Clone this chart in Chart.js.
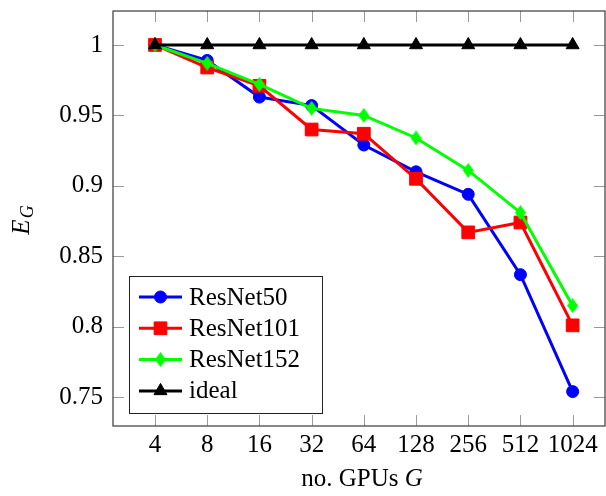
<!DOCTYPE html>
<html>
<head>
<meta charset="utf-8">
<script src="https://cdn.jsdelivr.net/npm/chart.js@4/dist/chart.umd.min.js"></script>
<style>
  html, body { margin: 0; padding: 0; background: #fff; overflow: hidden; }
  canvas { display: block; }
</style>
</head>
<body>
<canvas id="efficiency" width="606" height="496"></canvas>
<script>
// GPU counts on the x axis (plotted at log2 positions) and efficiency per model
const gpuCounts = [4, 8, 16, 32, 64, 128, 256, 512, 1024];
const resnet50 = [1.0, 0.989, 0.963, 0.957, 0.929, 0.910, 0.894, 0.837, 0.754];
const resnet101 = [1.0, 0.984, 0.971, 0.940, 0.937, 0.905, 0.867, 0.874, 0.801];
const resnet152 = [1.0, 0.987, 0.972, 0.955, 0.950, 0.934, 0.911, 0.881, 0.815];
const ideal = [1, 1, 1, 1, 1, 1, 1, 1, 1];
const yTicks = [0.75, 0.8, 0.85, 0.9, 0.95, 1];

const FONT = "'Liberation Serif', 'Times New Roman', serif";
const FONT_SIZE = 25;

const toPoints = (values) => values.map((v, i) => ({ x: Math.log2(gpuCounts[i]), y: v }));

// narrow diamond marker like pgfplots' diamond*
const makeDiamond = (color, w, h) => {
  const c = document.createElement("canvas");
  c.width = w;
  c.height = h;
  const ctx = c.getContext("2d");
  ctx.fillStyle = color;
  ctx.beginPath();
  ctx.moveTo(w / 2, 0);
  ctx.lineTo(w, h / 2);
  ctx.lineTo(w / 2, h);
  ctx.lineTo(0, h / 2);
  ctx.closePath();
  ctx.fill();
  return c;
};
const greenDiamond = makeDiamond("#00ff00", 11, 15);

const series = [
  { label: "ResNet50", data: resnet50, color: "#0000ff", pointStyle: "circle", radius: 6, order: 3 },
  { label: "ResNet101", data: resnet101, color: "#ff0000", pointStyle: "rect", radius: 9, order: 2 },
  { label: "ResNet152", data: resnet152, color: "#00ff00", pointStyle: greenDiamond, radius: 7, order: 1 },
  { label: "ideal", data: ideal, color: "#000000", pointStyle: "triangle", radius: 7.5, order: 0 },
];

// box around the plot with inward tick marks on all four sides, plus x tick labels
const frame = {
  id: "frame",
  beforeDatasetsDraw(chart) {
    const { ctx, chartArea: a, scales } = chart;
    const len = 11;
    ctx.save();
    ctx.strokeStyle = "#9a9a9a";
    ctx.lineWidth = 1;
    ctx.beginPath();
    scales.x.ticks.forEach((t) => {
      const px = Math.round(scales.x.getPixelForValue(t.value)) + 0.5;
      ctx.moveTo(px, a.bottom);
      ctx.lineTo(px, a.bottom - len);
      ctx.moveTo(px, a.top);
      ctx.lineTo(px, a.top + len);
    });
    scales.y.ticks.forEach((t) => {
      const py = Math.round(scales.y.getPixelForValue(t.value)) + 0.5;
      ctx.moveTo(a.left, py);
      ctx.lineTo(a.left + len, py);
      ctx.moveTo(a.right, py);
      ctx.lineTo(a.right - len, py);
    });
    ctx.stroke();
    ctx.strokeStyle = "#3a3a3a";
    ctx.lineWidth = 1.2;
    ctx.strokeRect(a.left, a.top, a.right - a.left, a.bottom - a.top);

    ctx.fillStyle = "#000";
    ctx.font = `${FONT_SIZE}px ${FONT}`;
    ctx.textAlign = "center";
    ctx.textBaseline = "alphabetic";
    scales.x.ticks.forEach((t) => {
      ctx.fillText(String(Math.round(2 ** t.value)), scales.x.getPixelForValue(t.value), a.bottom + 26);
    });
    ctx.restore();
  },
};

// axis titles with italic math parts (E_G and G)
const axisTitles = {
  id: "axisTitles",
  afterDraw(chart) {
    const { ctx, chartArea: a } = chart;
    ctx.save();
    ctx.fillStyle = "#000";
    ctx.textBaseline = "alphabetic";
    ctx.textAlign = "left";

    // x title
    ctx.font = `${FONT_SIZE}px ${FONT}`;
    const plain = "no. GPUs ";
    const wPlain = ctx.measureText(plain).width;
    ctx.font = `italic ${FONT_SIZE}px ${FONT}`;
    const wG = ctx.measureText("G").width;
    let x0 = (a.left + a.right) / 2 - (wPlain + wG) / 2 + 3;
    ctx.font = `${FONT_SIZE}px ${FONT}`;
    ctx.fillText(plain, x0, 486);
    ctx.font = `italic ${FONT_SIZE}px ${FONT}`;
    ctx.fillText("G", x0 + wPlain, 486);

    // y title, rotated
    ctx.translate(29, (a.top + a.bottom) / 2 + 2);
    ctx.rotate(-Math.PI / 2);
    ctx.font = `italic ${FONT_SIZE}px ${FONT}`;
    const wE = ctx.measureText("E").width;
    ctx.font = `italic 18px ${FONT}`;
    const wSub = ctx.measureText("G").width;
    const start = -(wE + wSub) / 2;
    ctx.font = `italic ${FONT_SIZE}px ${FONT}`;
    ctx.fillText("E", start, 0);
    ctx.font = `italic 18px ${FONT}`;
    ctx.fillText("G", start + wE + 1, 4);
    ctx.restore();
  },
};

// legend box inside the lower-left corner of the plot
const innerLegend = {
  id: "innerLegend",
  afterDraw(chart) {
    const { ctx, chartArea: a } = chart;
    const box = { x: a.left + 16, y: a.bottom - 150, w: 193, h: 137 };
    const rowH = 31.3;
    ctx.save();
    ctx.fillStyle = "#fff";
    ctx.fillRect(box.x, box.y, box.w, box.h);
    ctx.strokeStyle = "#222";
    ctx.lineWidth = 1;
    ctx.strokeRect(box.x + 0.5, box.y + 0.5, box.w, box.h);
    chart.data.datasets.forEach((ds, i) => {
      const cy = box.y + 21 + i * rowH;
      const lx = box.x + 10;
      ctx.strokeStyle = ds.borderColor;
      ctx.lineWidth = ds.borderWidth;
      ctx.beginPath();
      ctx.moveTo(lx, cy);
      ctx.lineTo(lx + 43, cy);
      ctx.stroke();
      ctx.fillStyle = ds.pointBackgroundColor;
      ctx.strokeStyle = ds.pointBorderColor;
      ctx.lineWidth = ds.pointBorderWidth;
      Chart.helpers.drawPoint(ctx, {
        pointStyle: ds.pointStyle,
        radius: ds.pointRadius,
        rotation: 0,
        borderWidth: ds.pointBorderWidth,
      }, lx + 21.5, cy);
      ctx.fillStyle = "#000";
      ctx.font = `${FONT_SIZE}px ${FONT}`;
      ctx.textBaseline = "middle";
      ctx.fillText(ds.label, lx + 50, cy + 1);
    });
    ctx.restore();
  },
};

Chart.defaults.font.family = FONT;
Chart.defaults.font.size = FONT_SIZE;
Chart.defaults.color = "#000";

const chart = new Chart(document.getElementById("efficiency"), {
  type: "line",
  data: {
    datasets: series.map((s) => ({
      label: s.label,
      data: toPoints(s.data),
      borderColor: s.color,
      backgroundColor: s.color,
      borderWidth: 3,
      pointStyle: s.pointStyle,
      pointRadius: s.radius,
      pointBackgroundColor: s.color,
      pointBorderColor: s.color,
      pointBorderWidth: 1,
      tension: 0,
      order: s.order,
      clip: false,
    })),
  },
  options: {
    responsive: false,
    devicePixelRatio: 1,
    animation: false,
    events: [],
    // no extra room for marker overflow: the plot box runs to the right edge
    layout: { autoPadding: false, padding: { left: 0, right: 1, top: 11, bottom: 0 } },
    plugins: {
      legend: { display: false },
      tooltip: { enabled: false },
    },
    scales: {
      x: {
        type: "linear",
        min: 1.195,
        max: 10.62,
        afterBuildTicks: (scale) => {
          scale.ticks = gpuCounts.map((g) => ({ value: Math.log2(g) }));
        },
        afterFit: (scale) => {
          scale.height = 70;
          scale.paddingLeft = 0;
          scale.paddingRight = 0;
        },
        ticks: { display: false },
        grid: { display: false, drawTicks: false },
        border: { display: false },
      },
      y: {
        type: "linear",
        min: 0.7296,
        max: 1.0241,
        afterBuildTicks: (scale) => {
          scale.ticks = yTicks.map((v) => ({ value: v }));
        },
        afterFit: (scale) => {
          scale.width = 113;
          scale.paddingTop = 0;
          scale.paddingBottom = 0;
        },
        ticks: {
          padding: 10,
          callback: (value) => String(+value.toFixed(2)),
        },
        grid: { display: false, drawTicks: false },
        border: { display: false },
      },
    },
  },
  plugins: [frame, axisTitles, innerLegend],
});
</script>
</body>
</html>
